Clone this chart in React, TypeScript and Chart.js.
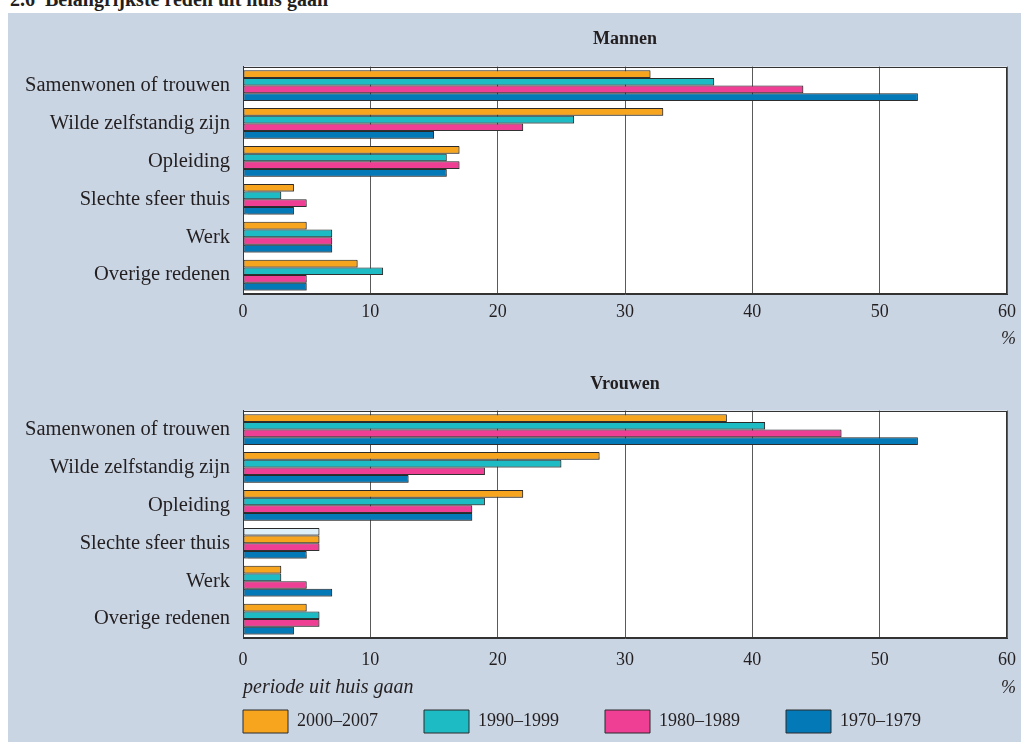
import React, { useEffect, useRef } from "react";
import { Chart, registerables } from "chart.js";

Chart.register(...registerables);

// ---------- data ----------
const categories = [
  "Samenwonen of trouwen",
  "Wilde zelfstandig zijn",
  "Opleiding",
  "Slechte sfeer thuis",
  "Werk",
  "Overige redenen",
];
const periods = ["2000–2007", "1990–1999", "1980–1989", "1970–1979"];

const mannen2000 = [32, 33, 17, 4, 5, 9];
const mannen1990 = [37, 26, 16, 3, 7, 11];
const mannen1980 = [44, 22, 17, 5, 7, 5];
const mannen1970 = [53, 15, 16, 4, 7, 5];

const vrouwen2000 = [38, 28, 22, 6, 3, 5];
const vrouwen1990 = [41, 25, 19, 6, 3, 6];
const vrouwen1980 = [47, 19, 18, 6, 5, 6];
const vrouwen1970 = [53, 13, 18, 5, 7, 4];

const xMin = 0;
const xMax = 60;
const xStep = 10;

const panelTitles = ["Mannen", "Vrouwen"];
const unitLabel = "%";
const legendTitle = "periode uit huis gaan";
const pageTitle = "2.6\u00a0\u00a0Belangrijkste reden uit huis gaan";

// ---------- styles ----------
const periodColors = ["#f7a51e", "#1dbcc5", "#ee3f94", "#0479b7"];
// in the source, the "Slechte sfeer thuis" bars for women are shifted in colour
const vrouwenColorOverrides: Record<number, Record<number, string>> = {
  0: { 3: "#ddf0fa" },
  1: { 3: "#f7a51e" },
};
const FONT = "'Liberation Serif', 'Times New Roman', serif";
const INK = "#231f20";
const PANEL_BG = "#cad5e4";

function makeDatasets(series: number[][], overrides?: Record<number, Record<number, string>>) {
  return series.map((data, i) => ({
    label: periods[i],
    data,
    backgroundColor: overrides && overrides[i]
      ? (c: any) => {
          const o = overrides[i];
          return c.dataIndex !== undefined && o[c.dataIndex] ? o[c.dataIndex] : periodColors[i];
        }
      : periodColors[i],
    borderColor: "#2a2a2a",
    borderWidth: 1,
    borderSkipped: false,
    categoryPercentage: 0.81,
    barPercentage: 1.0,
  }));
}

function framePlugin(unitY: number) {
  return {
    id: "frameAndUnit",
    beforeDraw(chart: any) {
      const { ctx, chartArea: a } = chart;
      ctx.save();
      ctx.fillStyle = "#ffffff";
      ctx.fillRect(a.left, a.top, a.right - a.left, a.bottom - a.top);
      ctx.restore();
    },
    beforeDatasetsDraw(chart: any) {
      const { ctx } = chart;
      ctx.save();
      ctx.shadowColor = "rgba(60,60,60,0.45)";
      ctx.shadowOffsetX = 1;
      ctx.shadowOffsetY = 1;
      ctx.shadowBlur = 1;
    },
    afterDatasetsDraw(chart: any) {
      chart.ctx.restore();
    },
    afterDraw(chart: any) {
      const { ctx, chartArea: a } = chart;
      ctx.save();
      ctx.strokeStyle = "#333333";
      ctx.lineWidth = 1;
      ctx.strokeRect(
        Math.round(a.left) + 0.5,
        Math.round(a.top) + 0.5,
        Math.round(a.right - a.left) - 1,
        Math.round(a.bottom - a.top) - 1
      );
      ctx.font = `italic 18px ${FONT}`;
      ctx.fillStyle = INK;
      ctx.textAlign = "right";
      ctx.textBaseline = "middle";
      ctx.fillText(unitLabel, a.right + 9, unitY);
      ctx.restore();
    },
  };
}

function legendPlacement(itemTop: number, reserved: number) {
  return {
    id: "legendPlacement",
    beforeInit(chart: any) {
      const lg = chart.legend;
      if (!lg) return;
      const fit = lg.fit;
      lg.fit = function () {
        fit.call(this);
        this.height = reserved;
      };
    },
    beforeDraw(chart: any) {
      const lg = chart.legend;
      if (!lg) return;
      const pad = lg.options.labels.padding;
      lg.left = chart.chartArea.left - pad;
      lg.top = itemTop - pad;
      lg.bottom = chart.height;
    },
  };
}

function baseOptions(
  title: string,
  titlePad: { top: number; bottom: number },
  tickPad: number,
  tickLineHeight: number,
  xHeight: number
) {
  return {
    indexAxis: "y" as const,
    animation: false as const,
    responsive: false,
    events: [] as any[],
    layout: { padding: { left: 0, right: 14, top: 0, bottom: 0 } },
    plugins: {
      title: {
        display: true,
        text: title,
        fullSize: false,
        color: INK,
        font: { family: FONT, size: 18, weight: "bold" as const, lineHeight: 1.2 },
        padding: titlePad,
      },
      legend: { display: false },
      tooltip: { enabled: false },
    },
    scales: {
      x: {
        min: xMin,
        max: xMax,
        ticks: {
          stepSize: xStep,
          color: INK,
          padding: tickPad,
          font: { family: FONT, size: 18, lineHeight: tickLineHeight },
        },
        grid: { color: "#5a5a5a", lineWidth: 1, drawTicks: false },
        border: { display: true, color: "#333333" },
        afterFit: (s: any) => {
          s.height = xHeight;
        },
      },
      y: {
        ticks: {
          color: INK,
          padding: 13,
          font: { family: FONT, size: 20.5, lineHeight: 1.2 },
        },
        grid: { display: false, drawTicks: false },
        border: { display: true, color: "#333333" },
        afterFit: (s: any) => {
          s.width = 243;
        },
      },
    },
  };
}

export default function App() {
  const menRef = useRef<HTMLCanvasElement | null>(null);
  const womenRef = useRef<HTMLCanvasElement | null>(null);

  useEffect(() => {
    const charts: Chart[] = [];
    if (menRef.current) {
      const opts: any = baseOptions(panelTitles[0], { top: 16, bottom: 16 }, 4, 1.55, 54);
      charts.push(
        new Chart(menRef.current, {
          type: "bar",
          data: {
            labels: categories,
            datasets: makeDatasets([mannen2000, mannen1990, mannen1980, mannen1970]) as any,
          },
          options: opts,
          plugins: [framePlugin(326)],
        })
      );
    }
    if (womenRef.current) {
      const opts: any = baseOptions(panelTitles[1], { top: 26, bottom: 15 }, 4, 2.0, 74);
      opts.scales.x.title = {
        display: true,
        text: legendTitle,
        align: "start",
        color: INK,
        font: { family: FONT, size: 20, style: "italic", lineHeight: 1.2 },
        padding: { top: 0, bottom: 12 },
      };
      opts.plugins.legend = {
        display: true,
        position: "bottom",
        align: "start",
        fullSize: true,
        labels: {
          boxWidth: 45,
          boxHeight: 23,
          padding: 46,
          color: INK,
          font: { family: FONT, size: 18 },
        },
      };
      charts.push(
        new Chart(womenRef.current, {
          type: "bar",
          data: {
            labels: categories,
            datasets: makeDatasets(
              [vrouwen2000, vrouwen1990, vrouwen1980, vrouwen1970],
              vrouwenColorOverrides
            ) as any,
          },
          options: opts,
          plugins: [framePlugin(340), legendPlacement(362, 30)],
        })
      );
    }
    return () => {
      charts.forEach((c) => c.destroy());
    };
  }, []);

  return (
    <div
      style={{
        position: "absolute",
        left: 0,
        top: 0,
        width: 1021,
        height: 742,
        overflow: "hidden",
        background: "#ffffff",
      }}
    >
      <div
        style={{
          position: "absolute",
          left: 8,
          top: 13,
          width: 1013,
          height: 729,
          background: PANEL_BG,
        }}
      />
      <div
        style={{
          position: "absolute",
          left: 10,
          top: -10,
          font: `bold 20px ${FONT}`,
          lineHeight: "19px",
          color: INK,
          whiteSpace: "nowrap",
        }}
      >
        {pageTitle}
      </div>
      <canvas
        ref={menRef}
        width={1021}
        height={335}
        style={{ position: "absolute", left: 0, top: 13, width: 1021, height: 335 }}
      />
      <canvas
        ref={womenRef}
        width={1021}
        height={394}
        style={{ position: "absolute", left: 0, top: 348, width: 1021, height: 394 }}
      />
    </div>
  );
}
